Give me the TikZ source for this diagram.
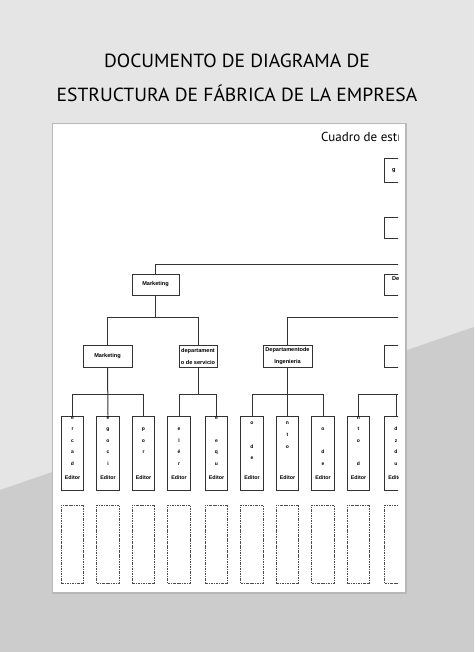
\documentclass[tikz,border=0pt]{standalone}
\usepackage{graphicx}
\usepackage{fontspec}
\setmainfont{Liberation Sans}
\newfontfamily\titlefont{PT Sans}
\usepackage{tikz}

\begin{document}
\begin{tikzpicture}[%
        x=1pt, y=-1pt,
        unit/.style={ draw=black!80, line width=1pt, minimum width=47pt, minimum height=21pt, inner sep=1pt, align=center, font=\fontsize{5.6}{12}\selectfont\bfseries },%
        editor/.style={ draw=black!80, line width=1pt, minimum width=22.5pt, minimum height=74pt, inner sep=0pt },%
        letters/.style={ anchor=north, align=center, inner sep=0pt, font=\fontsize{5}{11.6}\selectfont\bfseries },%
        edlabel/.style={ inner sep=0pt, font=\fontsize{5.3}{6}\selectfont\bfseries },%
        spare/.style={ draw=black!70, line width=.7pt, dash pattern=on 2.5pt off 1pt on .8pt off 1pt, minimum width=22.5pt, minimum height=78pt, inner sep=0pt },%
        link/.style={ draw=black!80, line width=1pt }%
      ]
      % background and sheet
      \useasboundingbox (0,0) rectangle (474,652);
      \fill[black!10] (0,0) rectangle (474,652);
      \fill[black!20] (0,490) -- (474,327) -- (474,652) -- (0,652) -- cycle;
      \fill[black!28] (52,123) rectangle (406.5,594);
      \fill[white] (53,124) rectangle (405,592);
      \node (title) at (237,78) [align=center, text=black, font=\titlefont\fontsize{19}{34}\selectfont]
        {\scalebox{1.03}[1]{DOCUMENTO DE DIAGRAMA DE}\\\scalebox{1.03}[1]{ESTRUCTURA DE FÁBRICA DE LA EMPRESA}};

      \begin{scope}
      \clip (53,124) rectangle (398,592);
      \node (head) at (321,137) [anchor=west, inner sep=0pt, font=\titlefont\fontsize{13}{14}\selectfont]{Cuadro de estı};

      % right column
      \node (gen) at (407.5,171) [unit, minimum height=24pt, text width=45pt, align=left]{\hspace*{7pt}g};
      \node (gen2) at (407.5,227.5) [unit]{};
      \node (dep) at (407.5,284.5) [unit, text width=45pt, align=left]{\hspace*{7pt}De\\~};

      % level 1 and 2
      \node (mkt) at (155.5,284.5) [unit]{Marketing};
      \node (mkt2) at (107.5,356) [unit, minimum width=49pt, minimum height=22pt]{Marketing};
      \node (srv) at (198,356) [unit, minimum width=38pt, minimum height=22pt]{departament\\o de servicio};
      \node (ing) at (287.5,356) [unit, minimum width=49pt, minimum height=22pt]{Departamentode\\Ingenieria};
      \node (x4) at (407.5,356) [unit, minimum height=22pt]{};

      % level 3
      \node (ed1) at (72.5,453) [editor]{};
      \node (ed2) at (108,453) [editor]{};
      \node (ed3) at (143.5,453) [editor]{};
      \node (ed4) at (179,453) [editor]{};
      \node (ed5) at (216.5,453) [editor]{};
      \node (ed6) at (252,453) [editor]{};
      \node (ed7) at (287.5,453) [editor]{};
      \node (ed8) at (323,453) [editor]{};
      \node (ed9) at (358.5,453) [editor]{};
      \node (ed10) at (396,453) [editor]{};

      \node (w1) at ([yshift=4.8pt]ed1.north) [letters]{\strut e\\r\\c\\a\\d};
      \node (w2) at ([yshift=4.8pt]ed2.north) [letters]{\strut e\\g\\o\\c\\i};
      \node (w3) at ([yshift=4.8pt]ed3.north) [letters]{\strut ~\\p\\o\\r};
      \node (w4) at ([yshift=4.8pt]ed4.north) [letters]{\strut ~\\e\\l\\é\\r};
      \node (w5) at ([yshift=4.8pt]ed5.north) [letters]{\strut e\\~\\e\\q\\u};
      \node (w6) at ([yshift=-1pt]ed6.north) [letters]{\strut o\\~\\d\\e};
      \node (w7) at ([yshift=-1pt]ed7.north) [letters]{\strut n\\t\\o};
      \node (w8) at ([yshift=4.8pt]ed8.north) [letters]{\strut ~\\o\\~\\d\\e};
      \node (w9) at ([yshift=4.8pt]ed9.north) [letters]{\strut n\\t\\o\\~\\d};
      \node (w10) at ([yshift=4.8pt]ed10.north) [letters]{\strut ~\\d\\z\\d\\u};

      \node (t1) at ([yshift=-25pt]ed1.center) [edlabel]{Editor};
      \node (t2) at ([yshift=-25pt]ed2.center) [edlabel]{Editor};
      \node (t3) at ([yshift=-25pt]ed3.center) [edlabel]{Editor};
      \node (t4) at ([yshift=-25pt]ed4.center) [edlabel]{Editor};
      \node (t5) at ([yshift=-25pt]ed5.center) [edlabel]{Editor};
      \node (t6) at ([yshift=-25pt]ed6.center) [edlabel]{Editor};
      \node (t7) at ([yshift=-25pt]ed7.center) [edlabel]{Editor};
      \node (t8) at ([yshift=-25pt]ed8.center) [edlabel]{Editor};
      \node (t9) at ([yshift=-25pt]ed9.center) [edlabel]{Editor};
      \node (t10) at ([yshift=-25pt]ed10.center) [edlabel]{Editor};

      % empty slots
      \node (sp1) at (72.5,544) [spare]{};
      \node (sp2) at (108,544) [spare]{};
      \node (sp3) at (143.5,544) [spare]{};
      \node (sp4) at (179,544) [spare]{};
      \node (sp5) at (216.5,544) [spare]{};
      \node (sp6) at (252,544) [spare]{};
      \node (sp7) at (287.5,544) [spare]{};
      \node (sp8) at (323,544) [spare]{};
      \node (sp9) at (358.5,544) [spare]{};
      \node (sp10) at (396,544) [spare]{};

      % connectors
      \coordinate (bar1) at (0,264);
      \coordinate (bar2) at (0,317);
      \coordinate (bar3) at (0,394);
      \draw [link] (gen) -- (gen2);
      \draw [link] (gen2) -- (gen2.south |- bar1);
      \draw [link] (dep.north) |- (mkt.north |- bar1) -- (mkt.north);
      \draw [link] (mkt.south) -- (mkt.south |- bar2);
      \draw [link] (mkt2.north) |- (srv.north |- bar2) -- (srv.north);
      \draw [link] (dep.south) -- (dep.south |- bar2);
      \draw [link] (ing.north) |- (x4.north |- bar2) -- (x4.north);
      \draw [link] (mkt2.south) -- (ed2.north);
      \draw [link] (ed1.north) |- (ed3.north |- bar3) -- (ed3.north);
      \draw [link] (srv.south) -- (srv.south |- bar3);
      \draw [link] (ed4.north) |- (ed5.north |- bar3) -- (ed5.north);
      \draw [link] (ing.south) -- (ed7.north);
      \draw [link] (ed6.north) |- (ed8.north |- bar3) -- (ed8.north);
      \draw [link] (x4.south) -- (x4.south |- bar3);
      \draw [link] (ed9.north) |- (x4.south |- bar3);
      \draw [link] (ed10.north |- bar3) -- (ed10.north);
      \end{scope}
    \end{tikzpicture}
\end{document}
